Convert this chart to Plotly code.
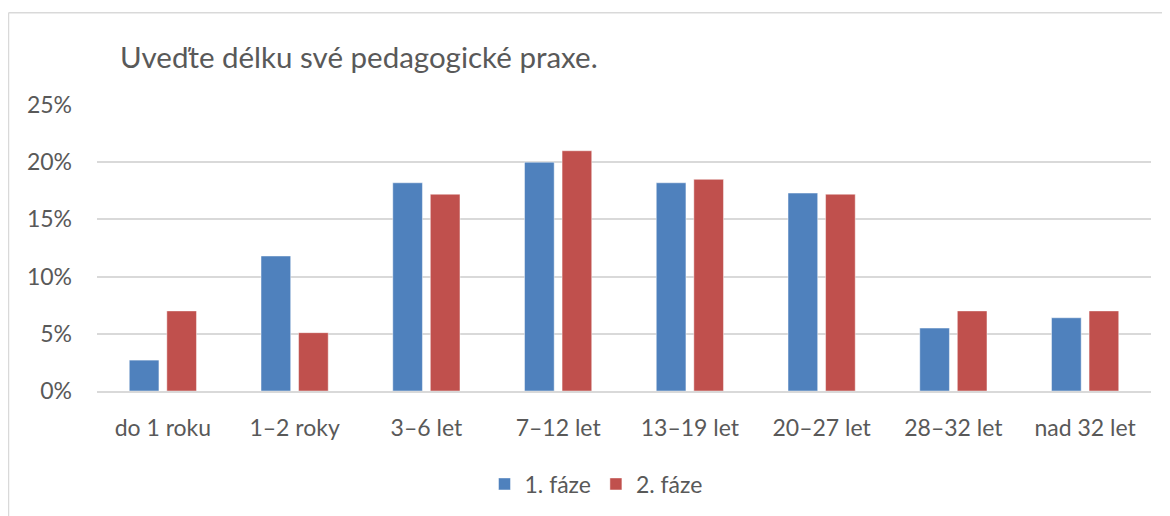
import plotly.graph_objects as go

categories = ["do 1 roku", "1–2 roky", "3–6 let", "7–12 let", "13–19 let", "20–27 let", "28–32 let", "nad 32 let"]
faze1 = [0.027, 0.118, 0.182, 0.200, 0.182, 0.173, 0.055, 0.064]
faze2 = [0.070, 0.051, 0.172, 0.210, 0.185, 0.172, 0.070, 0.070]
series_names = ["1. fáze", "2. fáze"]
title_text = "Uveďte délku své pedagogické praxe."

# page has an 8px body margin; figure coordinates are page coordinates minus 8
OFF = 8
W, H = 1170 - OFF, 516 - OFF
ML, MR, MT, MB = 97 - OFF, 19, 105 - OFF, 124
PW, PH = W - ML - MR, H - MT - MB

FONT = "Lato, 'Open Sans', sans-serif"
TXT = "#595959"
GRID = "#d9d9d9"

fig = go.Figure()
fig.add_trace(go.Bar(x=categories, y=faze1, name=series_names[0],
                     marker=dict(color="#4F81BD", line=dict(color="rgba(255,255,255,0.45)", width=1))))
fig.add_trace(go.Bar(x=categories, y=faze2, name=series_names[1],
                     marker=dict(color="#C0504D", line=dict(color="rgba(255,255,255,0.45)", width=1))))

def px_x(p):
    # p in page pixels
    return (p - OFF - ML) / PW

def px_y(p):
    return (H - MB - (p - OFF)) / PH

fig.update_layout(
    width=W, height=H,
    margin=dict(l=ML, r=MR, t=MT, b=MB),
    paper_bgcolor="white", plot_bgcolor="white",
    font=dict(family=FONT, color=TXT, size=23),
    barmode="group", bargap=0.43, bargroupgap=0.21,
    title=dict(text=title_text, x=(120 - OFF) / W, xanchor="left", y=1 - (58 - OFF) / H, yanchor="middle",
               font=dict(family=FONT, size=29.5, color=TXT)),
    xaxis=dict(showgrid=False, showline=True, linecolor=GRID, linewidth=1.5,
               ticks="", ticklabelstandoff=16, tickfont=dict(size=23, color=TXT)),
    yaxis=dict(range=[0, 0.25], dtick=0.05, tickformat=".0%", showgrid=True, gridcolor=GRID,
               gridwidth=1.5, zeroline=False, showline=False, ticks="", ticklabelstandoff=24,
               tickfont=dict(size=23, color=TXT)),
    legend=dict(orientation="h", x=px_x(596), xanchor="center", y=px_y(484), yanchor="middle",
                font=dict(size=23, color=TXT), itemwidth=30, traceorder="normal"),
    showlegend=True,
    shapes=[
        dict(type="line", xref="paper", yref="paper", x0=px_x(8.5), x1=px_x(1175),
             y0=px_y(12.5), y1=px_y(12.5), line=dict(color=GRID, width=1.5)),
        dict(type="line", xref="paper", yref="paper", x0=px_x(8.5), x1=px_x(8.5),
             y0=px_y(12.5), y1=px_y(525), line=dict(color=GRID, width=1.5)),
    ],
)

fig.write_html("out.html")
